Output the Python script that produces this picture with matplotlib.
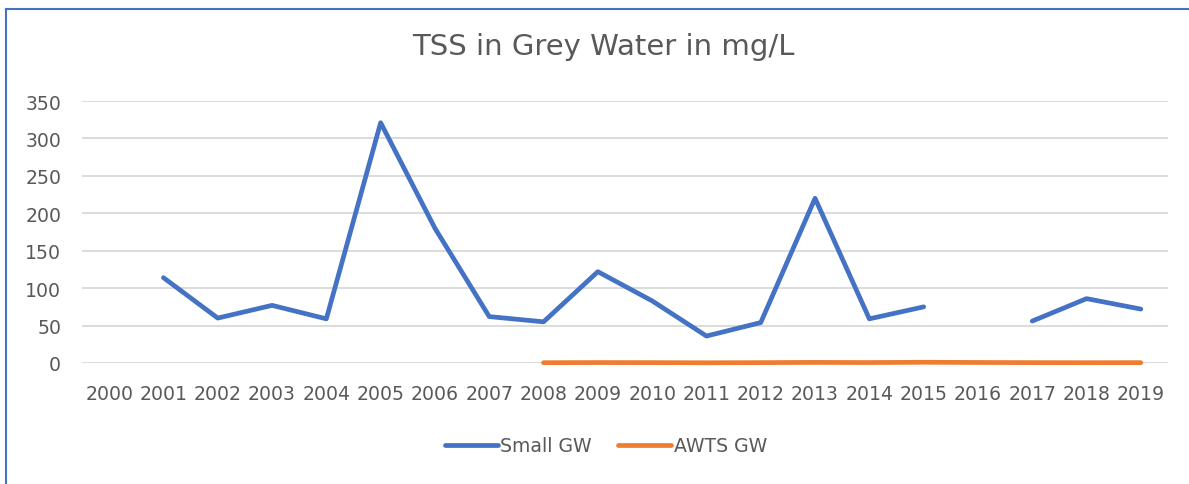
import numpy as np
import matplotlib.pyplot as plt
from matplotlib.lines import Line2D

plt.rcParams['font.family'] = ['DejaVu Sans']

# Data
years = [str(y) for y in range(2000, 2020)]
small_gw = [np.nan, 114, 60, 77, 59, 321, 180, 62, 55, 122, 83, 36, 54, 220, 59, 75,
            np.nan, 56, 86, 72]
awts_gw = [np.nan] * 8 + [0.4, 0.6, 0.5, 0.3, 0.5, 0.8, 0.6, 1.0, 0.7, 0.5, 0.4, 0.5]
y_ticks = [0, 50, 100, 150, 200, 250, 300, 350]

text_col = '#595959'
blue = '#4472C4'
orange = '#ED7D31'

fig = plt.figure(figsize=(11.89, 4.85), dpi=100)
ax = fig.add_axes([82 / 1189, 1 - 364 / 485, 1086 / 1189, 262 / 485])

x = np.arange(len(years))
ax.plot(x, small_gw, color=blue, lw=3.4, solid_capstyle='round',
        solid_joinstyle='round', label='Small GW', zorder=3, clip_on=False)
ax.plot(x, awts_gw, color=orange, lw=3.4, solid_capstyle='round',
        solid_joinstyle='round', label='AWTS GW', zorder=3, clip_on=False)

ax.set_xlim(-0.5, len(years) - 0.5)
ax.set_ylim(0, 350)
ax.set_yticks(y_ticks)
ax.set_xticks(x)
ax.set_xticklabels(years)
ax.tick_params(length=0, labelsize=13.6, colors=text_col)
ax.tick_params(axis='y', pad=15)
ax.tick_params(axis='x', pad=15)
ax.grid(axis='y', color='#D9D9D9', lw=1.3)
ax.set_axisbelow(True)
for s in ax.spines.values():
    s.set_visible(False)

fig.text(603 / 1189, 1 - 47 / 485, 'TSS in Grey Water in mg/L', ha='center',
         va='center', fontsize=21, color=text_col)

leg = fig.legend(loc='center', bbox_to_anchor=(606 / 1189, 1 - 447 / 485), ncol=2,
                 frameon=False, fontsize=13.6, handlelength=2.8, handletextpad=0.15,
                 columnspacing=1.4)
for t in leg.get_texts():
    t.set_color(text_col)

# frame lines (left and top)
fig.add_artist(Line2D([6 / 1189, 6 / 1189], [0, 1 - 10 / 485], color=blue, lw=1.5))
fig.add_artist(Line2D([6 / 1189, 1], [1 - 10 / 485, 1 - 10 / 485], color=blue, lw=1.5))

fig.savefig('out.png', dpi=100)
